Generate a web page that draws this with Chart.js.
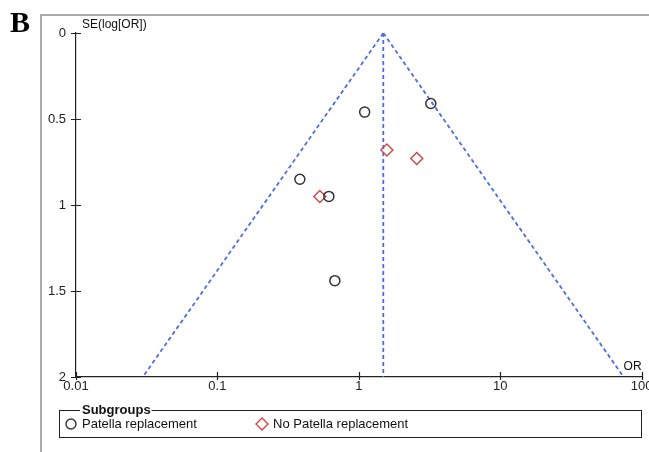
<!DOCTYPE html>
<html>
<head>
<meta charset="utf-8">
<script src="https://cdn.jsdelivr.net/npm/chart.js@4.4.1/dist/chart.umd.min.js"></script>
<style>
  html, body { margin: 0; padding: 0; background: #fff; }
  #wrap { width: 649px; height: 452px; position: relative; }
</style>
</head>
<body>
<div id="wrap"><canvas id="funnel"></canvas></div>
<script>
// values
const panelLetter = 'B';
const seriesNames = ['Patella replacement', 'No Patella replacement'];
const patellaOR = [1.10, 3.23, 0.383, 0.614, 0.677];
const patellaSE = [0.46, 0.41, 0.85, 0.95, 1.44];
const noPatellaOR = [1.58, 2.57, 0.53];
const noPatellaSE = [0.68, 0.73, 0.95];
const pooledOR = 1.49;
const funnelBottomOR = [0.0297, 74.6];
const seMax = 2;
const xTicks = [0.01, 0.1, 1, 10, 100];
const xTickLabels = ['0.01', '0.1', '1', '10', '100'];
const yTicks = [0, 0.5, 1, 1.5, 2];
const yTickLabels = ['0', '0.5', '1', '1.5', '2'];
const xTitle = 'OR';
const yTitle = 'SE(log[OR])';
const legendTitle = 'Subgroups';

const blue = '#4a6ee0';
const red = '#d04545';
const dark = '#333333';

function toPoints(xs, ys) {
    return xs.map((x, i) => ({ x: x, y: ys[i] }));
}

const dashed = {
    type: 'line',
    showLine: true,
    borderColor: blue,
    borderWidth: 1.8,
    borderDash: [4, 3],
    pointRadius: 0,
    fill: false
};

// extra drawing: frame, panel letter, crossing ticks, axis titles, legend box
const decorations = {
    id: 'decorations',
    beforeDraw(chart) {
        const c = chart.ctx;
        c.save();
        c.fillStyle = '#fff';
        c.fillRect(0, 0, chart.width, chart.height);
        c.strokeStyle = '#aaaaaa';
        c.lineWidth = 2;
        c.beginPath();
        c.moveTo(41, chart.height);
        c.lineTo(41, 15);
        c.lineTo(chart.width, 15);
        c.stroke();
        c.fillStyle = '#000';
        c.font = 'bold 30px "Liberation Serif"';
        c.textBaseline = 'alphabetic';
        c.fillText(panelLetter, 10, 32);
        c.restore();
    },
    afterDraw(chart) {
        const c = chart.ctx;
        const xs = chart.scales.x, ys = chart.scales.y;
        const area = chart.chartArea;
        c.save();
        c.strokeStyle = '#222';
        c.lineWidth = 1.2;
        c.beginPath();
        xTicks.forEach(v => {
            const px = Math.round(xs.getPixelForValue(v)) + 0.5;
            c.moveTo(px, area.bottom - 5);
            c.lineTo(px, area.bottom + 3);
        });
        yTicks.forEach(v => {
            const py = Math.round(ys.getPixelForValue(v)) + 0.5;
            c.moveTo(area.left - 5, py);
            c.lineTo(area.left + 5, py);
        });
        c.stroke();

        c.fillStyle = '#111';
        c.font = '12px "Liberation Sans"';
        c.textBaseline = 'middle';
        c.textAlign = 'left';
        c.fillText(yTitle, area.left + 6, 25);
        c.fillText(xTitle, area.right - 18, area.bottom - 10);

        // legend box
        const bx = 59, by = 410, bw = 582, bh = 27;
        c.strokeStyle = '#222';
        c.lineWidth = 1;
        c.strokeRect(bx + 0.5, by + 0.5, bw, bh);
        c.font = 'bold 13px "Liberation Sans"';
        c.textBaseline = 'alphabetic';
        const tw = c.measureText(legendTitle).width;
        c.fillStyle = '#fff';
        c.fillRect(80, by - 2, tw + 3, 5);
        c.fillStyle = '#111';
        c.fillText(legendTitle, 82, 414);

        c.font = '13px "Liberation Sans"';
        c.textBaseline = 'middle';
        c.lineWidth = 1.4;
        c.strokeStyle = dark;
        c.beginPath();
        c.arc(71, 424, 5, 0, Math.PI * 2);
        c.stroke();
        c.fillText(seriesNames[0], 82, 424);

        c.strokeStyle = red;
        c.beginPath();
        c.moveTo(262, 418); c.lineTo(268, 424); c.lineTo(262, 430); c.lineTo(256, 424);
        c.closePath();
        c.stroke();
        c.fillText(seriesNames[1], 273, 424);
        c.restore();
    }
};

const ctx = document.getElementById('funnel').getContext('2d');
const funnelChart = new Chart(ctx, {
    type: 'scatter',
    data: {
        datasets: [
            {
                label: seriesNames[0],
                data: toPoints(patellaOR, patellaSE),
                pointStyle: 'circle',
                pointRadius: 5,
                borderColor: dark,
                borderWidth: 1.5,
                backgroundColor: 'rgba(0,0,0,0)'
            },
            {
                label: seriesNames[1],
                data: toPoints(noPatellaOR, noPatellaSE),
                pointStyle: 'rectRot',
                pointRadius: 6,
                borderColor: red,
                borderWidth: 1.4,
                backgroundColor: 'rgba(0,0,0,0)'
            },
            Object.assign({ label: 'pooled', data: [{ x: pooledOR, y: 0 }, { x: pooledOR, y: seMax }] }, dashed),
            Object.assign({ label: 'lower', data: [{ x: pooledOR, y: 0 }, { x: funnelBottomOR[0], y: seMax }] }, dashed),
            Object.assign({ label: 'upper', data: [{ x: pooledOR, y: 0 }, { x: funnelBottomOR[1], y: seMax }] }, dashed)
        ]
    },
    options: {
        responsive: true,
        maintainAspectRatio: false,
        animation: false,
        layout: { padding: { left: 40, right: 7, top: 33, bottom: 45 } },
        plugins: {
            legend: { display: false },
            tooltip: { enabled: false }
        },
        scales: {
            x: {
                type: 'logarithmic',
                min: 0.01,
                max: 100,
                afterBuildTicks: scale => { scale.ticks = xTicks.map(v => ({ value: v })); },
                afterFit: scale => { scale.height = 30; scale.paddingLeft = 0; scale.paddingRight = 0; },
                grid: { display: false },
                border: { display: true, color: '#222', width: 1.2 },
                ticks: {
                    autoSkip: false,
                    maxRotation: 0,
                    padding: -6,
                    color: '#222',
                    font: { family: 'Liberation Sans', size: 13 },
                    callback: v => xTickLabels[xTicks.indexOf(v)]
                }
            },
            y: {
                type: 'linear',
                reverse: true,
                min: 0,
                max: seMax,
                afterBuildTicks: scale => { scale.ticks = yTicks.map(v => ({ value: v })); },
                afterFit: scale => { scale.width = 36; scale.paddingTop = 0; scale.paddingBottom = 0; },
                grid: { display: false },
                border: { display: true, color: '#222', width: 1.2 },
                ticks: {
                    padding: 2,
                    color: '#222',
                    font: { family: 'Liberation Sans', size: 13 },
                    callback: v => yTickLabels[yTicks.indexOf(v)]
                }
            }
        }
    },
    plugins: [decorations]
});
</script>
</body>
</html>
